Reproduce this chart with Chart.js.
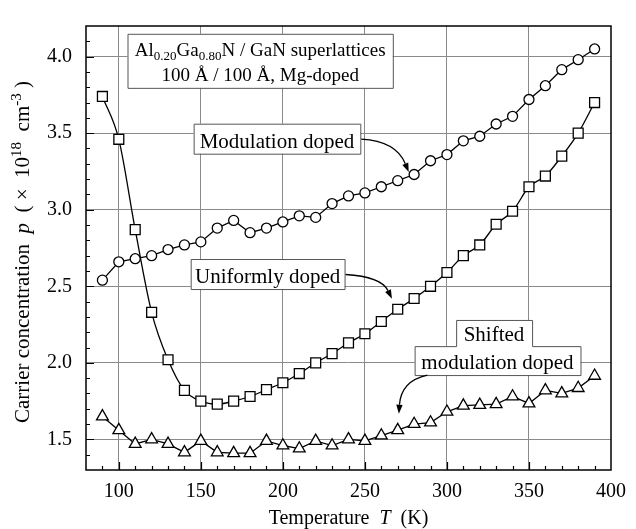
<!DOCTYPE html>
<html><head><meta charset="utf-8">
<script src="https://cdn.jsdelivr.net/npm/chart.js@4/dist/chart.umd.min.js"></script>
<style>html,body{margin:0;padding:0;background:#fff}</style>
</head><body>
<canvas id="c" width="636" height="529"></canvas>
<script>
// ---- data ----
const temperatures = [90,100,110,120,130,140,150,160,170,180,190,200,210,220,230,240,250,260,270,280,290,300,310,320,330,340,350,360,370,380,390];
const modulationDoped = [2.54,2.66,2.68,2.70,2.74,2.77,2.79,2.88,2.93,2.85,2.88,2.92,2.96,2.95,3.04,3.09,3.11,3.15,3.19,3.23,3.32,3.36,3.45,3.48,3.56,3.61,3.72,3.81,3.915,3.98,4.05];
const uniformlyDoped = [3.74,3.46,2.87,2.33,2.02,1.82,1.75,1.73,1.75,1.78,1.825,1.87,1.93,2.00,2.06,2.13,2.19,2.27,2.35,2.42,2.50,2.59,2.70,2.77,2.905,2.99,3.15,3.22,3.35,3.50,3.70];
const shiftedModulationDoped = [1.65,1.56,1.47,1.50,1.47,1.415,1.49,1.415,1.41,1.41,1.49,1.46,1.44,1.49,1.46,1.50,1.49,1.525,1.56,1.60,1.61,1.68,1.72,1.725,1.73,1.78,1.735,1.82,1.80,1.835,1.915];
const xTickLabels = [100,150,200,250,300,350,400];
const yTickLabels = [1.5,2.0,2.5,3.0,3.5,4.0];
const seriesNames = ['Modulation doped','Uniformly doped','Shifted modulation doped'];

const SERIF = '"Liberation Serif","Times New Roman",serif';
const pts = arr => temperatures.map((t,i)=>({x:t,y:arr[i]}));
const isMajorX = v => xTickLabels.includes(Math.round(v)) && Math.abs(v-Math.round(v))<1e-6;
const isMajorY = v => yTickLabels.some(t=>Math.abs(t-v)<1e-6);

function rich(ctx, segs, x, y, size, rotate, supScale){
  const ss = supScale || 0.68;
  ctx.save(); ctx.translate(x,y); if(rotate) ctx.rotate(-Math.PI/2);
  const f = s => (s.i?'italic ':'') + ((s.sup||s.sub)?Math.round(size*ss):size) + 'px ' + SERIF;
  let total=0; segs.forEach(s=>{ctx.font=f(s); s.w=ctx.measureText(s.t).width; total+=s.w;});
  let cx=-total/2; ctx.fillStyle='#000'; ctx.textBaseline='alphabetic'; ctx.textAlign='left';
  segs.forEach(s=>{ctx.font=f(s); const dy=s.sup?-size*0.4:(s.sub?size*0.22:0); ctx.fillText(s.t,cx,dy); cx+=s.w;});
  ctx.restore();
}

function arrow(ctx, p0, c, p1){
  ctx.save(); ctx.strokeStyle='#000'; ctx.fillStyle='#000'; ctx.lineWidth=1.3;
  const ang = Math.atan2(p1.y-c.y, p1.x-c.x);
  const L=9, W=3.2;
  const bx=p1.x-L*Math.cos(ang), by=p1.y-L*Math.sin(ang);
  ctx.beginPath(); ctx.moveTo(p0.x,p0.y); ctx.quadraticCurveTo(c.x,c.y,bx,by); ctx.stroke();
  ctx.beginPath(); ctx.moveTo(p1.x,p1.y);
  ctx.lineTo(bx+W*Math.sin(ang), by-W*Math.cos(ang));
  ctx.lineTo(bx-W*Math.sin(ang), by+W*Math.cos(ang));
  ctx.closePath(); ctx.fill(); ctx.restore();
}

const decor = {
  id:'decor',
  beforeDatasetsDraw(chart){
    const {ctx, scales:{x,y}} = chart;
    const X=v=>x.getPixelForValue(v), Y=v=>y.getPixelForValue(v);
    const box=(x1,x2,y1,y2)=>{ctx.fillStyle='#fff'; ctx.fillRect(X(x1),Y(y1),X(x2)-X(x1),Y(y2)-Y(y1));};
    const boxStroke=(path)=>{ctx.beginPath(); path.forEach((p,i)=>i?ctx.lineTo(X(p[0])+.5,Y(p[1])+.5):ctx.moveTo(X(p[0])+.5,Y(p[1])+.5)); ctx.closePath(); ctx.strokeStyle='#555'; ctx.lineWidth=1; ctx.stroke();};
    ctx.save();
    // title box
    box(105.3,267,4.149,3.796);
    boxStroke([[105.3,4.149],[267,4.149],[267,3.796],[105.3,3.796]]);
    rich(ctx,[{t:'Al'},{t:'0.20',sub:1},{t:'Ga'},{t:'0.80',sub:1},{t:'N / GaN superlattices'}],X(186.2),Y(4.004),19);
    rich(ctx,[{t:'100 Å / 100 Å, Mg-doped'}],X(186.2),Y(3.838),19);
    // modulation doped
    box(145.6,247.2,3.562,3.366);
    boxStroke([[145.6,3.562],[247.2,3.562],[247.2,3.366],[145.6,3.366]]);
    rich(ctx,[{t:seriesNames[0]}],X(196.4),Y(3.405),21);
    arrow(ctx,{x:X(247.8),y:Y(3.461)},{x:X(269),y:Y(3.448)},{x:X(276.7),y:Y(3.246)});
    // uniformly doped
    box(143.8,237.6,2.678,2.482);
    boxStroke([[143.8,2.678],[237.6,2.678],[237.6,2.482],[143.8,2.482]]);
    rich(ctx,[{t:seriesNames[1]}],X(190.7),Y(2.522),21);
    arrow(ctx,{x:X(238.2),y:Y(2.577)},{x:X(259.8),y:Y(2.564)},{x:X(266.5),y:Y(2.419)});
    // shifted modulation doped
    box(305.6,351.9,2.280,2.109);
    box(280.3,381.4,2.109,1.920);
    boxStroke([[305.6,2.280],[351.9,2.280],[351.9,2.109],[381.4,2.109],[381.4,1.920],[280.3,1.920],[280.3,2.109],[305.6,2.109]]);
    rich(ctx,[{t:'Shifted'}],X(328.7),Y(2.140),21);
    rich(ctx,[{t:'modulation doped'}],X(330.8),Y(1.960),21);
    arrow(ctx,{x:X(288.1),y:Y(1.920)},{x:X(272),y:Y(1.882)},{x:X(270.7),y:Y(1.667)});
    ctx.restore();
  },
  afterDraw(chart){
    const {ctx, chartArea:a, scales:{x,y}} = chart;
    ctx.save();
    ctx.strokeStyle='#000'; ctx.lineWidth=1.2;
    // inward ticks
    ctx.beginPath();
    for(let t=90;t<400;t+=10){const px=Math.round(x.getPixelForValue(t))+.5; const L=isMajorX(t)?8:4; ctx.moveTo(px,a.bottom); ctx.lineTo(px,a.bottom-L);}
    for(let k=14;k<42;k++){const v=k/10; const py=Math.round(y.getPixelForValue(v))+.5; const L=isMajorY(v)?8:4; ctx.moveTo(a.left,py); ctx.lineTo(a.left+L,py);}
    ctx.stroke();
    // frame
    ctx.lineWidth=1.5; ctx.strokeRect(a.left,a.top,a.right-a.left,a.bottom-a.top);
    // axis titles
    rich(ctx,[{t:'Temperature  '},{t:'T',i:1},{t:'  (K)'}],(a.left+a.right)/2,524,20);
    rich(ctx,[{t:'Carrier concentration  '},{t:'p',i:1},{t:'  ( ×  10'},{t:'18',sup:1},{t:'  cm'},{t:'-3',sup:1},{t:' )'}],29,252,21,true,0.72);
    ctx.restore();
  }
};

const ds = (label,arr,style,radius,extra) => Object.assign({
  label, data:pts(arr), borderColor:'#000', borderWidth:1.3, backgroundColor:'#fff',
  pointStyle:style, pointRadius:radius, pointHoverRadius:radius, pointBackgroundColor:'#fff',
  pointBorderColor:'#000', pointBorderWidth:1.3, tension:0, fill:false
}, extra||{});

new Chart(document.getElementById('c'), {
  type:'line',
  data:{datasets:[
    ds(seriesNames[0],modulationDoped,'circle',5),
    ds(seriesNames[1],uniformlyDoped,'rect',7,{cubicInterpolationMode:'monotone'}),
    ds(seriesNames[2],shiftedModulationDoped,'triangle',6.8)
  ]},
  options:{
    responsive:false, animation:false, devicePixelRatio:1,
    layout:{padding:{top:11,right:18,left:0,bottom:0}},
    plugins:{legend:{display:false},tooltip:{enabled:false}},
    scales:{
      x:{type:'linear',min:80,max:400,
        afterFit:s=>{s.height=59;},
        border:{display:false},
        grid:{drawTicks:false,lineWidth:1,color:c=>(c.tick&&isMajorX(c.tick.value)&&c.tick.value<400)?'#8a8a8a':'rgba(0,0,0,0)'},
        ticks:{stepSize:10,autoSkip:false,maxRotation:0,padding:10,color:'#000',font:{family:SERIF,size:20},
          callback:v=>isMajorX(v)?String(v):''}
      },
      y:{type:'linear',min:1.3,max:4.2,
        afterFit:s=>{s.width=86;},
        border:{display:false},
        grid:{drawTicks:false,lineWidth:1,color:c=>(c.tick&&isMajorY(c.tick.value))?'#8a8a8a':'rgba(0,0,0,0)'},
        ticks:{stepSize:0.1,autoSkip:false,padding:14,color:'#000',font:{family:SERIF,size:20},
          callback:v=>isMajorY(v)?v.toFixed(1):''}
      }
    }
  },
  plugins:[decor]
});
</script>
</body></html>
